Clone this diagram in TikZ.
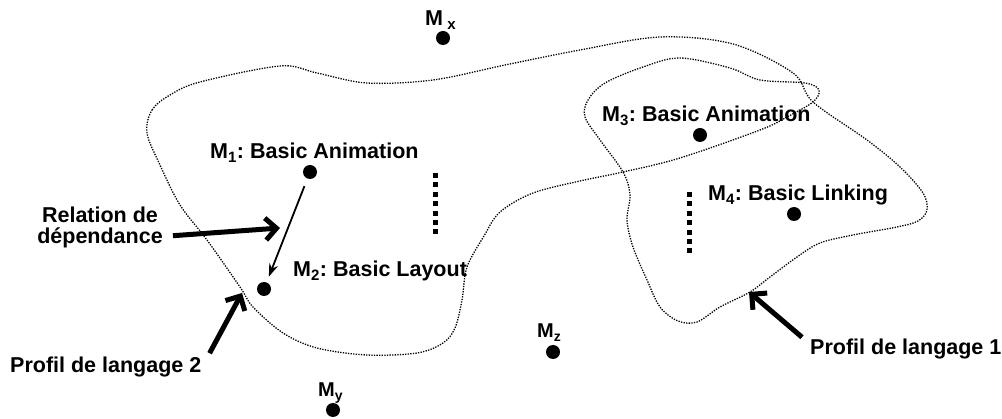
\documentclass[tikz,border=0pt]{standalone}
\usepackage{fontspec}
\setmainfont{Liberation Sans}
\usetikzlibrary{arrows.meta,calc,positioning}

\tikzset{
	lbl/.style={font=\fontsize{21.5}{21}\selectfont\bfseries\frenchspacing, inner sep=0pt},
	smalllbl/.style={font=\fontsize{20}{20}\selectfont\bfseries, inner sep=0pt},
	dot/.style={circle, fill=black, inner sep=0pt, minimum size=14pt},
	profile/.style={line width=1.3pt, dash pattern=on 1.3pt off 1.3pt},
	vdots/.style={line width=5pt, dash pattern=on 5pt off 4.4pt},
	bigarrow/.style={line width=5pt, -{Straight Barb[length=11pt,width=22pt]}},
	deparrow/.style={line width=1.8pt, -{Stealth[length=13pt,width=9pt]}}
}

\begin{document}
\begin{tikzpicture}[x=1pt, y=-1pt]
		\useasboundingbox (0,0) rectangle (1002,419);
		% the modules
		\node[dot] (mx) at (443,38) {};
		\node[dot] (m1) at (310,172) {};
		\node[dot] (m2) at (264,289) {};
		\node[dot] (m3) at (700,135) {};
		\node[dot] (m4) at (794,214) {};
		\node[dot] (my) at (333,410) {};
		\node[dot] (mz) at (553,352) {};
		\node[lbl, anchor=base west] (mxl) at (425,26) {M\textsubscript{\ x}};
		\node[lbl, anchor=base west] (m1l) at (210,159) {M\textsubscript{1}: Basic Animation};
		\node[lbl, anchor=base west] (m2l) at (293,277) {M\textsubscript{2}: Basic Layout};
		\node[lbl, anchor=base west] (m3l) at (602,122) {M\textsubscript{3}: Basic Animation};
		\node[lbl, anchor=base west] (m4l) at (708,201) {M\textsubscript{4}: Basic Linking};
		\node[smalllbl, anchor=base west] (myl) at (318,397) {M\textsubscript{y}};
		\node[smalllbl, anchor=base west] (mzl) at (537,338) {M\textsubscript{z}};
		%% the two profiles
		\draw[profile] plot[smooth cycle, tension=0.55] coordinates {
			(147,133) (152,110) (170,95) (200,82) (280,66) (317,73) (367,83) (433,80)
			(505,65) (580,50) (660,37) (733,44) (793,73) (813,102) (867,140) (900,167)
			(923,193) (927,210) (918,221) (897,227) (853,235) (820,243) (797,257) (770,277)
			(750,292) (720,307) (697,322) (678,321) (660,307) (647,280) (633,247) (627,220)
			(630,195) (623,172) (600,140) (585,117) (588,100) (605,83) (643,67) (680,58)
			(730,68) (760,80) (805,83) (819,90) (813,102) (787,117) (760,130) (680,158)
			(623,172) (580,181) (533,193) (500,212) (484,236) (467,267) (462,300) (455,328)
			(443,343) (417,353) (367,355) (317,348) (283,333) (253,307) (240,287) (207,240)
			(180,205) (160,165)};
		\draw[vdots] (435,173) -- (435,238);
		\draw[vdots] (689,192) -- (689,257);
		%% annotations
		\node[lbl, align=center, anchor=north] (rel) at (100,207) {Relation de\\dépendance};
		\node[lbl, anchor=base west] (p2) at (10,373) {Profil de langage 2};
		\node[lbl, anchor=base west] (p1) at (810,355) {Profil de langage 1};
		\coordinate (reltip) at (280,228);
		\coordinate (p2tip) at (242,293);
		\coordinate (p1tip) at (749,292);
		\draw[deparrow, shorten <=8pt, shorten >=6pt] (m1) -- (m2);
		\draw[bigarrow] ([shift={(10pt,-8pt)}]rel.east) -- (reltip);
		\draw[bigarrow] ([shift={(8pt,4pt)}]p2.north east) -- (p2tip);
		\draw[bigarrow] ([shift={(-8pt,2pt)}]p1.north west) -- (p1tip);
	\end{tikzpicture}
\end{document}
